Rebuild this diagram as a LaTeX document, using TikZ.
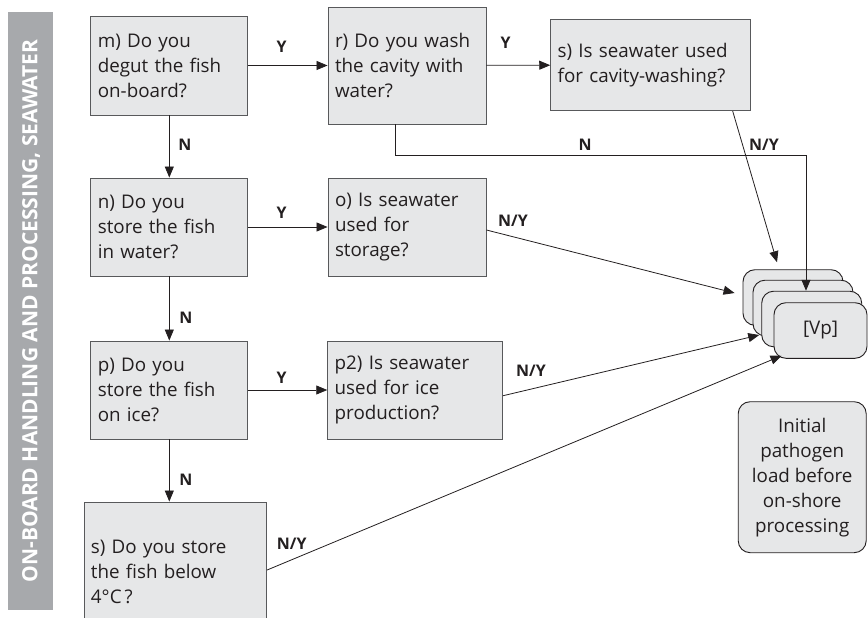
\documentclass[tikz,border=0pt]{standalone}
\usepackage{fontspec}
\setmainfont{Open Sans}
\usetikzlibrary{arrows.meta}
\usetikzlibrary{calc}

\definecolor{boxgray}{HTML}{E6E7E8}
\definecolor{linegray}{HTML}{58595B}
\definecolor{bargray}{HTML}{A7A9AC}
\definecolor{txt}{HTML}{231F20}

\begin{document}
\begin{tikzpicture}[x=1pt,y=-1pt,
  every node/.style={text=txt},
  q/.style={draw=linegray,fill=boxgray,line width=0.9pt,inner sep=7pt,align=left,font=\fontsize{18.8}{25}\selectfont},
  card/.style={draw=txt,fill=boxgray,line width=0.9pt,rounded corners=12pt,minimum width=100pt,minimum height=55.6pt,font=\fontsize{18.8}{25}\selectfont},
  yn/.style={font=\fontsize{16}{18}\selectfont\bfseries},
  to/.style={-{Triangle[length=11pt,width=9pt]},line width=0.8pt,draw=txt}]
  \clip (0,0) rectangle (868,618);
  \fill[bargray] (8,12) rectangle (53,610);
  \node[rotate=90,text=white,font=\fontsize{21}{22}\selectfont\bfseries] (side) at (31,311) {ON-BOARD HANDLING AND PROCESSING, SEAWATER};
  \node[q,text width=143pt,minimum height=99pt] (m) at (169.3,65.5) {m) Do you\\degut the fish\\on-board?};
  \node[q,text width=144pt,minimum height=117pt] (r) at (407,65.5) {r) Do you wash\\the cavity with\\water?};
  \node[q,text width=186pt,minimum height=91.4pt] (stop) at (650.7,65) {s) Is seawater used\\for cavity-washing?};
  \node[q,text width=143pt,minimum height=98pt] (n) at (169.3,227) {n) Do you\\store the fish\\in water?};
  \node[q,text width=144pt,minimum height=98pt] (o) at (407,227) {o) Is seawater\\used for\\storage?};
  \node[q,text width=143pt,minimum height=98pt] (p) at (169.3,390) {p) Do you\\store the fish\\on ice?};
  \node[q,text width=161pt,minimum height=98pt] (p2) at (415.2,390) {p2) Is seawater\\used for ice\\production?};
  \node[q,text width=168.7pt,minimum height=140pt] (cool) at (175.3,572) {s) Do you store\\the fish below\\4°C\,?};
  \node[card] (vp1) at (793,297.5) {};
  \node[card] (vp2) at (803,308) {};
  \node[card] (vp3) at (811.7,319) {};
  \node[card,minimum width=93pt] (vp4) at (820.5,330.5) {[Vp]};
  \node[card,minimum width=128pt,minimum height=151pt,align=center] (init) at (802.2,477.2) {Initial\\pathogen\\load before\\on-shore\\processing};
  \coordinate (nbend) at (806,155);
  \draw[to] (m) -- (r);
  \draw[to] (r) -- (stop);
  \draw[to] (m) -- (n);
  \draw[to] (n) -- (o);
  \draw[to] (n) -- (p);
  \draw[to] (p) -- (p2);
  \draw[to] (p.south) -- (p.south |- cool.north);
  \draw[to] ([xshift=-11.3pt]r.south) |- (nbend) -- (nbend |- vp3.north);
  \draw[to] ([xshift=82pt]stop.south) -- ([xshift=-16pt,yshift=7pt]vp1.north);
  \draw[to] ([yshift=-3pt]o.east) -- ([xshift=-8pt,yshift=4.5pt]vp1.west);
  \draw[to] ([yshift=-5.7pt]p2.east) -- ([xshift=-2pt,yshift=-16pt]vp3.west);
  \draw[to] ([yshift=2pt]cool.east) -- ([xshift=8pt,yshift=3pt]vp4.south west);
  \node[yn] (y1) at (281.7,47) {Y};
  \node[yn] (y2) at (505.7,43) {Y};
  \node[yn] (n1) at (185,145) {N};
  \node[yn] (y3) at (281.7,213) {Y};
  \node[yn] (n2) at (186,318) {N};
  \node[yn] (y4) at (281.7,378) {Y};
  \node[yn] (n3) at (186,480) {N};
  \node[yn] (n4) at (585,145) {N};
  \node[yn] (ny1) at (764,145) {N/Y};
  \node[yn] (ny2) at (513,221) {N/Y};
  \node[yn] (ny3) at (531,371) {N/Y};
  \node[yn] (ny4) at (291.7,544) {N/Y};
\end{tikzpicture}
\end{document}
